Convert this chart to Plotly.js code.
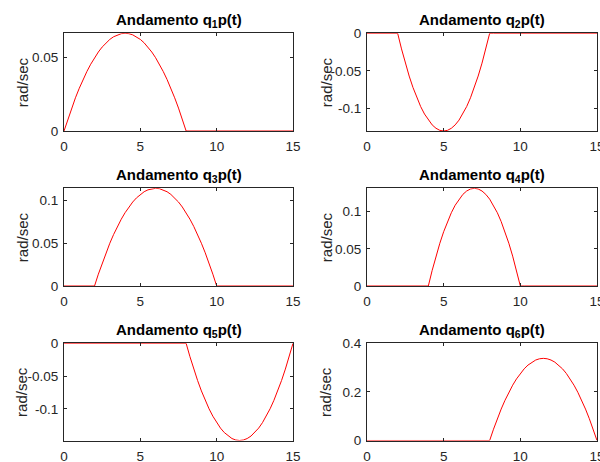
<!DOCTYPE html>
<html>
<head>
<meta charset="utf-8">
<script src="https://cdn.plot.ly/plotly-3.0.1.min.js"></script>
<style>html,body{margin:0;padding:0;background:#fff;}#chart{width:600px;height:462px;}</style>
</head>
<body>
<div id="chart"></div>
<script>
// Time samples (s), 0 to 15 every 0.25
const t = [0,0.25,0.5,0.75,1,1.25,1.5,1.75,2,2.25,2.5,2.75,3,3.25,3.5,3.75,4,4.25,4.5,4.75,5,5.25,5.5,5.75,6,6.25,6.5,6.75,7,7.25,7.5,7.75,8,8.25,8.5,8.75,9,9.25,9.5,9.75,10,10.25,10.5,10.75,11,11.25,11.5,11.75,12,12.25,12.5,12.75,13,13.25,13.5,13.75,14,14.25,14.5,14.75,15];

// Joint velocities (rad/sec)
const q1p = [0,0.00805,0.01559,0.02260,0.02909,0.03507,0.04052,0.04546,0.04988,0.05377,0.05715,0.06001,0.06234,0.06416,0.06546,0.06624,0.0665,0.06624,0.06546,0.06416,0.06234,0.06001,0.05715,0.05377,0.04988,0.04546,0.04052,0.03507,0.02909,0.02260,0.01559,0.00805,0,
  0,0,0,0,0,0,0,0,0,0,0,0,0,0,0,0,0,0,0,0,0,0,0,0,0,0,0,0];
const q2p = [0,0,0,0,0,0,0,0,0,
  -0.02081,-0.03981,-0.05701,-0.07239,-0.08596,-0.09773,-0.10768,-0.11582,-0.12216,-0.12668,-0.12940,-0.1303,-0.12940,-0.12668,-0.12216,-0.11582,-0.10768,-0.09773,-0.08596,-0.07239,-0.05701,-0.03981,-0.02081,
  0,0,0,0,0,0,0,0,0,0,0,0,0,0,0,0,0,0,0,0,0,0,0,0,0,0,0,0,0];
const q3p = [0,0,0,0,0,0,0,0,0,
  0.01387,0.02684,0.03891,0.05009,0.06038,0.06977,0.07827,0.08588,0.09259,0.09840,0.10332,0.10734,0.11048,0.11271,0.11405,0.1145,0.11405,0.11271,0.11048,0.10734,0.10332,0.09840,0.09259,0.08588,0.07827,0.06977,0.06038,0.05009,0.03891,0.02684,0.01387,
  0,0,0,0,0,0,0,0,0,0,0,0,0,0,0,0,0,0,0,0,0];
const q4p = [0,0,0,0,0,0,0,0,0,0,0,0,0,0,0,0,0,
  0.02100,0.04018,0.05753,0.07306,0.08675,0.09862,0.10867,0.11689,0.12328,0.12785,0.13058,0.1315,0.13058,0.12785,0.12328,0.11689,0.10867,0.09862,0.08675,0.07306,0.05753,0.04018,0.02100,
  0,0,0,0,0,0,0,0,0,0,0,0,0,0,0,0,0,0,0,0,0];
const q5p = [0,0,0,0,0,0,0,0,0,0,0,0,0,0,0,0,0,0,0,0,0,0,0,0,0,0,0,0,0,0,0,0,0,
  -0.02039,-0.03927,-0.05663,-0.07249,-0.08684,-0.09968,-0.11100,-0.12082,-0.12913,-0.13592,-0.14121,-0.14498,-0.14725,-0.1480,-0.14725,-0.14498,-0.14121,-0.13592,-0.12913,-0.12082,-0.11100,-0.09968,-0.08684,-0.07249,-0.05663,-0.03927,-0.02039,
  0];
const q6p = [0,0,0,0,0,0,0,0,0,0,0,0,0,0,0,0,0,0,0,0,0,0,0,0,0,0,0,0,0,0,0,0,0,
  0.04656,0.08967,0.12934,0.16555,0.19832,0.22763,0.25350,0.27592,0.29489,0.31041,0.32248,0.33110,0.33628,0.3380,0.33628,0.33110,0.32248,0.31041,0.29489,0.27592,0.25350,0.22763,0.19832,0.16555,0.12934,0.08967,0.04656,
  0];

const series = [q1p,q2p,q3p,q4p,q5p,q6p];
const titles = ['q<sub>1</sub>p(t)','q<sub>2</sub>p(t)','q<sub>3</sub>p(t)','q<sub>4</sub>p(t)','q<sub>5</sub>p(t)','q<sub>6</sub>p(t)'];
const yLabel = 'rad/sec';
const yRanges = [[0,0.0665],[-0.1303,0],[0,0.1145],[0,0.1315],[-0.148,0],[0,0.4]];
const yTicks = [[0,0.05],[-0.1,-0.05,0],[0,0.05,0.1],[0,0.05,0.1],[-0.1,-0.05,0],[0,0.2,0.4]];
const yTickText = [['0','0.05'],['-0.1','-0.05','0'],['0','0.05','0.1'],['0','0.05','0.1'],['-0.1','-0.05','0'],['0','0.2','0.4']];
const xTicks = [0,5,10,15];

const W = 600, H = 462;
const colPx = [[64,293],[367,597]];
const rowPx = [[33.3,131],[188.3,286],[343.3,440.5]];
const yTitleX = [22,326];
const FONT = 'Liberation Sans, Arial, sans-serif';

const traces = [];
const layout = {
  width: W, height: H,
  margin: {l:0,r:0,t:0,b:0},
  paper_bgcolor: '#fff', plot_bgcolor: '#fff',
  showlegend: false,
  font: {family: FONT, size: 13.5, color: '#262626'},
  annotations: []
};

for (let i = 0; i < 6; i++) {
  const r = Math.floor(i/2), c = i % 2;
  const xd = [colPx[c][0]/W, colPx[c][1]/W];
  const yd = [1 - rowPx[r][1]/H, 1 - rowPx[r][0]/H];
  const sfx = i === 0 ? '' : String(i+1);
  traces.push({
    x: t, y: series[i], type: 'scatter', mode: 'lines',
    line: {color: '#ff0000', width: 1},
    xaxis: 'x' + sfx, yaxis: 'y' + sfx, hoverinfo: 'skip', cliponaxis: false
  });
  const axCommon = {
    showline: true, linecolor: '#262626', linewidth: 1, mirror: 'ticks',
    ticks: 'inside', ticklen: 3, tickwidth: 1, tickcolor: '#262626',
    showgrid: false, zeroline: false, fixedrange: true,
    ticklabeloverflow: 'allow',
    tickfont: {family: FONT, size: 13.5, color: '#262626'}
  };
  layout['xaxis' + sfx] = Object.assign({}, axCommon, {
    domain: xd, range: [0,15], tickmode: 'array', tickvals: xTicks,
    ticktext: xTicks.map(String), anchor: 'y' + sfx, ticklabelstandoff: 3
  });
  layout['yaxis' + sfx] = Object.assign({}, axCommon, {
    domain: yd, range: yRanges[i], tickmode: 'array', tickvals: yTicks[i],
    ticktext: yTickText[i], anchor: 'x' + sfx, ticklabelstandoff: 2
  });
  layout.annotations.push({
    xref: 'paper', yref: 'paper',
    x: (xd[0]+xd[1])/2, y: yd[1], yshift: 1,
    xanchor: 'center', yanchor: 'bottom', showarrow: false,
    text: '<b>Andamento ' + titles[i] + '</b>',
    font: {family: FONT, size: 15, color: '#000'}
  });
  layout.annotations.push({
    xref: 'paper', yref: 'paper',
    x: yTitleX[c]/W, y: (yd[0]+yd[1])/2,
    xanchor: 'center', yanchor: 'middle', showarrow: false, textangle: -90,
    text: yLabel,
    font: {family: FONT, size: 15, color: '#262626'}
  });
}

Plotly.newPlot('chart', traces, layout, {staticPlot: true, displayModeBar: false});
</script>
</body>
</html>
